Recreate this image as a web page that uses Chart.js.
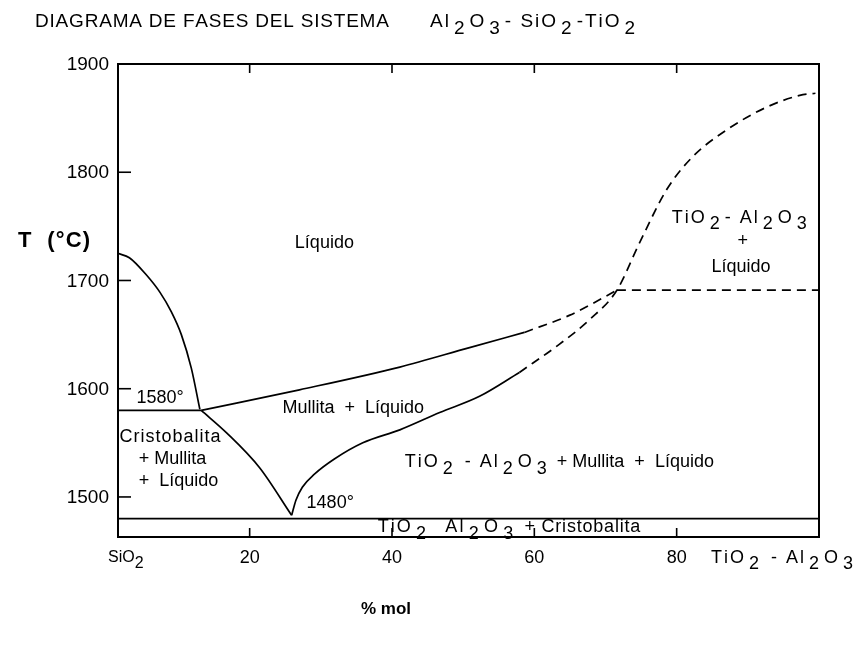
<!DOCTYPE html>
<html>
<head>
<meta charset="utf-8">
<script src="https://cdn.jsdelivr.net/npm/chart.js@4.4.1/dist/chart.umd.min.js"></script>
<style>
  html, body { margin: 0; padding: 0; background: #fff; }
  #wrap { width: 866px; height: 647px; position: relative; }
</style>
</head>
<body>
<div id="wrap"><canvas id="phaseChart"></canvas></div>
<script>
// axis ticks
const xTicks = [20, 40, 60, 80];
const yTicks = [1500, 1600, 1700, 1800, 1900];

// phase boundaries, [% mol, T in °C]
const liquidusSiO2 = [[1.5, 1725], [3.1, 1721], [5.5, 1705], [7.4, 1689], [9.0, 1671], [10.4, 1650], [11.8, 1619], [13.0, 1581]];
const line1580 = [[1.5, 1580], [13.2, 1580]];
const mulliteUpper = [[13.2, 1580], [27.0, 1599], [41.1, 1620], [50.9, 1638], [58.6, 1652]];
const mulliteUpperDash = [[58.6, 1652], [65.0, 1668], [71.6, 1691]];
const eutecticLeft = [[13.2, 1580], [16.8, 1559], [21.4, 1527], [25.9, 1483]];
const mulliteLower = [[25.9, 1483], [26.5, 1497], [27.4, 1509], [29.1, 1521], [31.9, 1535], [35.9, 1550], [41.1, 1562], [46.7, 1578], [52.3, 1593], [57.9, 1615]];
const tiLiquidusDash = [[57.9, 1615], [63.5, 1641], [67.8, 1664], [71.6, 1691], [74.8, 1735], [78.6, 1784], [82.2, 1814], [87.0, 1839], [92.6, 1860], [97.3, 1871], [99.5, 1873]];
const peritecticDash = [[71.6, 1691], [100, 1691]];
const line1480 = [[1.5, 1480], [100, 1480]];

const toPts = arr => arr.map(p => ({x: p[0], y: p[1]}));

function curve(arr, dashed, smooth) {
    return {
        data: toPts(arr),
        showLine: true,
        borderColor: '#000',
        borderWidth: 1.7,
        borderDash: dashed ? [9, 6] : [],
        pointRadius: 0,
        fill: false,
        cubicInterpolationMode: smooth ? 'monotone' : 'default',
        tension: 0
    };
}

const FONT = '"Liberation Sans", Arial, sans-serif';

// text with lowered digits written as _2; sp = extra space per letter, pad = gap around a lowered digit
function layoutText(ctx, text, sp, pad) {
    const out = [];
    let x = 0, low = false;
    for (const ch of text) {
        if (ch === '_') { low = true; continue; }
        if (low) x += pad;
        out.push([ch, x, low]);
        x += ctx.measureText(ch).width + sp;
        if (low) x += pad;
        low = false;
    }
    return {glyphs: out, width: x};
}
function drawRich(ctx, text, x, y, size, opts) {
    opts = opts || {};
    ctx.font = (opts.weight || '') + ' ' + size + 'px ' + FONT;
    const lay = layoutText(ctx, text, opts.sp || 0, opts.pad || 0);
    let x0 = x;
    if (opts.align === 'center') x0 = x - lay.width / 2;
    if (opts.align === 'right') x0 = x - lay.width;
    ctx.textAlign = 'left';
    ctx.textBaseline = 'middle';
    lay.glyphs.forEach(g => ctx.fillText(g[0], x0 + g[1], y + (g[2] ? size * 0.35 : 0)));
    return x0 + lay.width;
}

// annotations: pieces drawn one after another, [text, letter spacing, subscript gap]
const notes = [
    [[['Líquido', 0, 0]], 30.5, 1735, 'center'],
    [[['1580°', 0, 0]], 4.1, 1591, 'left'],
    [[['Cristobalita', 1, 0]], 1.7, 1555, 'left'],
    [[['+ Mullita', 0, 0]], 4.4, 1535, 'left'],
    [[['+  Líquido', 0, 0]], 4.4, 1515, 'left'],
    [[['Mullita  +  Líquido', 0, 0]], 24.6, 1582, 'left'],
    [[['TiO_2 - Al_2O_3', 2, 3], [' + Mullita  +  Líquido', 0, 0]], 41.8, 1532, 'left'],
    [[['1480°', 0, 0]], 28.0, 1494, 'left'],
    [[['TiO_2  Al_2O_3', 2, 3.3], [' + Cristobalita', 0.8, 0]], 38.0, 1472, 'left'],
    [[['TiO_2- Al_2O_3', 2, 3]], 79.3, 1758, 'left'],
    [[['+', 0, 0]], 89.3, 1736, 'center'],
    [[['Líquido', 0, 0]], 84.9, 1712, 'left']
];

const framePlugin = {
    id: 'frame',
    afterDraw(chart) {
        const ctx = chart.ctx;
        const a = chart.chartArea;
        const xs = chart.scales.x, ys = chart.scales.y;
        ctx.save();
        ctx.fillStyle = '#000';
        ctx.strokeStyle = '#000';
        ctx.lineWidth = 2;
        ctx.strokeRect(a.left, a.top, a.right - a.left, a.bottom - a.top);

        // inward tick marks
        ctx.lineWidth = 1.6;
        xTicks.forEach(v => {
            const px = xs.getPixelForValue(v);
            ctx.beginPath();
            ctx.moveTo(px, a.bottom); ctx.lineTo(px, a.bottom - 9);
            ctx.moveTo(px, a.top); ctx.lineTo(px, a.top + 9);
            ctx.stroke();
        });
        yTicks.forEach(v => {
            const py = ys.getPixelForValue(v);
            ctx.beginPath();
            ctx.moveTo(a.left, py); ctx.lineTo(a.left + 13, py);
            ctx.stroke();
            drawRich(ctx, String(v), a.left - 9, py + 1, 19, {align: 'right'});
        });

        xTicks.forEach(v => {
            drawRich(ctx, String(v), xs.getPixelForValue(v), a.bottom + 21, 18, {align: 'center'});
        });
        drawRich(ctx, 'SiO_2', a.left - 10, a.bottom + 21, 16);
        drawRich(ctx, 'TiO_2 - Al_2O_3', a.right - 108, a.bottom + 21, 18, {sp: 2, pad: 3});

        // titles
        drawRich(ctx, 'DIAGRAMA DE FASES DEL SISTEMA', 35, 22, 19, {sp: 0.8});
        drawRich(ctx, 'Al_2O_3- SiO_2-TiO_2', 430, 22, 19, {sp: 2, pad: 3});
        drawRich(ctx, 'T  (°C)', 18, 241, 22, {weight: 'bold', sp: 1.2});
        drawRich(ctx, '% mol', 386, 609, 17, {weight: 'bold', align: 'center'});

        notes.forEach(n => {
            let cx = xs.getPixelForValue(n[1]);
            const cy = ys.getPixelForValue(n[2]);
            n[0].forEach(piece => {
                cx = drawRich(ctx, piece[0], cx, cy, 18, {sp: piece[1], pad: piece[2], align: n[3]});
            });
        });
        ctx.restore();
    }
};

new Chart(document.getElementById('phaseChart'), {
    type: 'scatter',
    data: {
        datasets: [
            curve(liquidusSiO2, false, true),
            curve(line1580, false, false),
            curve(mulliteUpper, false, true),
            curve(mulliteUpperDash, true, true),
            curve(eutecticLeft, false, true),
            curve(mulliteLower, false, true),
            curve(tiLiquidusDash, true, true),
            curve(peritecticDash, true, false),
            curve(line1480, false, false)
        ]
    },
    options: {
        responsive: true,
        maintainAspectRatio: false,
        animation: false,
        layout: { padding: { left: 118, right: 47, top: 64, bottom: 110 } },
        plugins: {
            legend: { display: false },
            tooltip: { enabled: false },
            title: { display: false }
        },
        scales: {
            x: { type: 'linear', min: 1.5, max: 100, display: false },
            y: { type: 'linear', min: 1463, max: 1900, display: false }
        }
    },
    plugins: [framePlugin]
});
</script>
</body>
</html>
